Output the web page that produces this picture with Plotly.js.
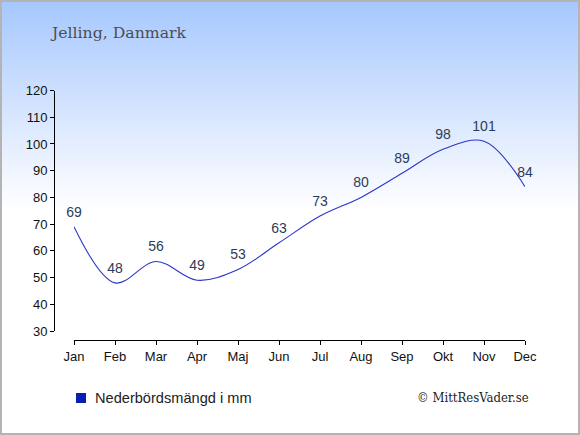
<!DOCTYPE html>
<html><head><meta charset="utf-8">
<script src="https://cdn.plot.ly/plotly-3.0.1.min.js"></script>
<style>
html,body{margin:0;padding:0;}
#wrap{position:relative;width:580px;height:435px;box-sizing:border-box;border:2px solid #b4b4b4;
background:linear-gradient(to bottom,#a6c8fe 0px,#d6e5fe 110px,#f6f9ff 185px,#ffffff 210px,#ffffff 100%);}
#chart{position:absolute;left:-2px;top:-2px;width:580px;height:435px;}
</style></head>
<body><div id="wrap"><div id="chart"></div></div>
<script>
const months = ["Jan","Feb","Mar","Apr","Maj","Jun","Jul","Aug","Sep","Okt","Nov","Dec"];
const precipitation = [69,48,56,49,53,63,73,80,89,98,101,84];
const yTicks = [30,40,50,60,70,80,90,100,110,120];
const titleText = "Jelling, Danmark";
const legendText = "Nederbördsmängd i mm";
const creditText = "© MittResVader.se";

const xIdx = months.map((m,i)=>i);
const W=580,H=435;
const trace = {
  x: xIdx, y: precipitation, type:'scatter', mode:'lines+markers+text',
  text: precipitation.map(String), textposition:'top center',
  textfont:{family:'Liberation Sans, Arial, sans-serif', size:14, color:'#2b3d5b'},
  marker:{size:9, color:'rgba(0,0,0,0)'},
  line:{color:'#2a36cc', width:1.1, shape:'spline', smoothing:1},
  cliponaxis:false, hoverinfo:'skip', showlegend:false
};
const axFont = {family:'Liberation Sans, Arial, sans-serif', size:13, color:'#111'};
const layout = {
  width:W, height:H, margin:{l:0,r:0,t:0,b:0},
  paper_bgcolor:'rgba(0,0,0,0)', plot_bgcolor:'rgba(0,0,0,0)',
  showlegend:false,
  title:{text:titleText, x:52/W, xanchor:'left', y:1-33/H, yanchor:'middle',
         font:{family:'DejaVu Serif, serif', size:15.7, color:'#4d4d4d'}},
  xaxis:{domain:[74/W,525/W], range:[0,11], tickmode:'array', tickvals:xIdx, ticktext:months,
         anchor:'free', position:(H-340)/H, showline:true, linecolor:'#000', linewidth:1,
         ticks:'outside', ticklen:4, tickcolor:'#000', showgrid:false, zeroline:false, tickfont:axFont},
  yaxis:{domain:[(H-331)/H,(H-90.5)/H], range:[30,120], tickmode:'array', tickvals:yTicks,
         anchor:'free', position:54/W, showline:true, linecolor:'#000', linewidth:1,
         ticks:'outside', ticklen:4, tickcolor:'#000', showgrid:false, zeroline:false, tickfont:axFont},
  shapes:[{type:'rect', xref:'paper', yref:'paper', x0:76/W, x1:86/W, y0:(H-403)/H, y1:(H-393)/H,
           fillcolor:'#0a1fb0', line:{width:0}}],
  annotations:[
    {text:legendText, xref:'paper', yref:'paper', x:93/W, y:(H-398)/H, xanchor:'left', yanchor:'middle',
     showarrow:false, font:{family:'Liberation Sans, Arial, sans-serif', size:14.6, color:'#222'}},
    {text:creditText, xref:'paper', yref:'paper', x:531/W, y:(H-397)/H, xanchor:'right', yanchor:'middle',
     showarrow:false, font:{family:'DejaVu Serif Condensed, DejaVu Serif, serif', size:13, color:'#222'}}
  ]
};
Plotly.newPlot('chart',[trace],layout,{staticPlot:true,displayModeBar:false});
</script></body></html>
